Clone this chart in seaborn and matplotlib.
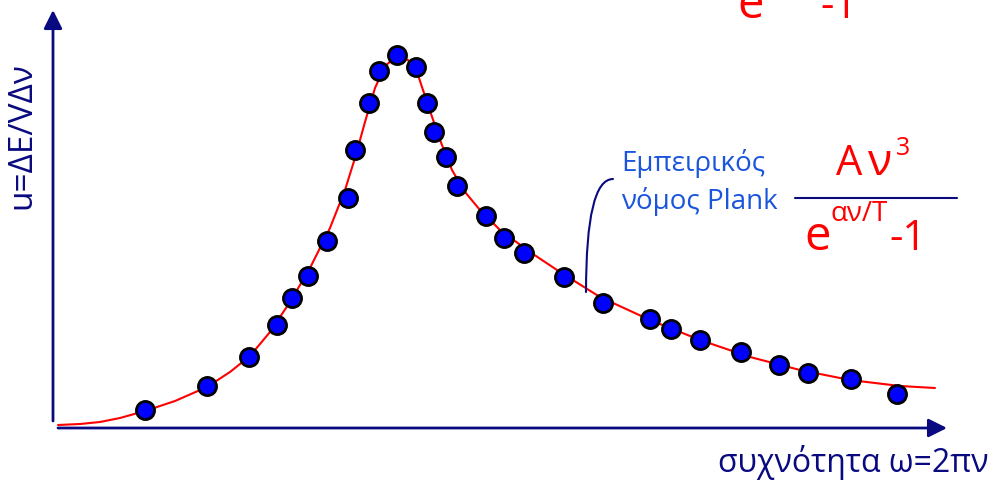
import numpy as np
import pandas as pd
import matplotlib
matplotlib.use("Agg")
import matplotlib.pyplot as plt
import seaborn as sns

# measured points (pixel-like units, y grows downward)
dot_x = [145, 207, 249, 277, 292, 308, 327, 348, 355, 369, 379, 397, 416, 427, 434,
         446, 457, 486, 504, 524, 564, 603, 650, 671, 700, 741, 779, 808, 851, 897]
dot_y = [410, 386, 357, 325, 298, 276, 241, 198, 150, 103, 71, 55, 67, 103, 132,
         157, 186, 216, 238, 253, 277, 303, 319, 329, 340, 352, 365, 373, 379, 394]

# red fitted curve
curve_x = [58, 80, 100, 120, 145, 175, 207, 230, 250, 270, 290, 310, 330, 345, 355,
           365, 375, 385, 397, 408, 418, 428, 440, 452, 465, 480, 500, 530, 560, 600,
           650, 700, 750, 800, 850, 900, 935]
curve_y = [425, 424, 422, 418, 411, 401, 387, 372, 356, 332, 302, 268, 228, 190, 158,
           122, 88, 66, 56, 60, 75, 105, 140, 170, 192, 210, 230, 252, 272, 297,
           320, 340, 357, 370, 380, 386, 388]

navy = "#0A0A80"
blue_txt = "#1A55DD"
red = "#FF0000"

sns.set_style("white")
plt.rcParams['font.family'] = ['Open Sans', 'DejaVu Sans']

fig = plt.figure(figsize=(9.94, 4.8), dpi=100)
ax = fig.add_axes([0, 0, 1, 1])
ax.set_xlim(0, 994)
ax.set_ylim(480, 0)
ax.axis('off')

# axes arrows
ax.annotate("", xy=(53, 10), xytext=(53, 421),
            arrowprops=dict(arrowstyle='-|>', color=navy, lw=2, mutation_scale=28,
                            shrinkA=0, shrinkB=0))
ax.annotate("", xy=(947, 428), xytext=(58, 428),
            arrowprops=dict(arrowstyle='-|>', color=navy, lw=2, mutation_scale=28,
                            shrinkA=0, shrinkB=0))

curve = pd.DataFrame({'x': curve_x, 'y': curve_y})
sns.lineplot(data=curve, x='x', y='y', sort=False, estimator=None, color=red, lw=1.5, ax=ax)

dots = pd.DataFrame({'x': dot_x, 'y': dot_y})
sns.scatterplot(data=dots, x='x', y='y', s=170, color='#0000FF', edgecolor='black',
                linewidth=2, zorder=5, ax=ax)
ax.set_xlabel('')
ax.set_ylabel('')

# axis labels
ax.text(22, 136, "u=ΔE/VΔν", rotation=90, ha='center', va='center', fontsize=24, color=navy)
ax.text(989, 462, "συχνότητα ω=2πν", ha='right', va='center', fontsize=23, color=navy)

# annotation
ax.text(621, 163, "Εμπειρικός", ha='left', va='center', fontsize=20, color=blue_txt)
ax.text(621, 201, "νόμος Plank", ha='left', va='center', fontsize=20, color=blue_txt)
ax.annotate("", xy=(586, 292), xytext=(613, 179),
            arrowprops=dict(arrowstyle='-', color=navy, lw=1.5,
                            connectionstyle="angle3,angleA=0,angleB=90",
                            shrinkA=0, shrinkB=0))

# formula
ax.text(836, 175, "A", ha='left', va='baseline', fontsize=30, color=red)
ax.text(868, 175, "ν", ha='left', va='baseline', fontsize=32, color=red)
ax.text(896, 155, "3", ha='left', va='baseline', fontsize=18, color=red)
ax.plot([795, 957], [198, 198], color=navy, lw=1.5)
ax.text(804, 250, "e", ha='left', va='baseline', fontsize=34, color=red)
ax.text(831, 221, "αν/T", ha='left', va='baseline', fontsize=20, color=red)
ax.text(889, 250, "-1", ha='left', va='baseline', fontsize=30, color=red)

# cropped formula at the top edge
ax.text(737, 18, "e", ha='left', va='baseline', fontsize=34, color=red, clip_on=False)
ax.text(792, 0, "αν", ha='left', va='baseline', fontsize=20, color=red, clip_on=False)
ax.text(820, 18, "-1", ha='left', va='baseline', fontsize=30, color=red, clip_on=False)

fig.savefig("out.png", dpi=100)
